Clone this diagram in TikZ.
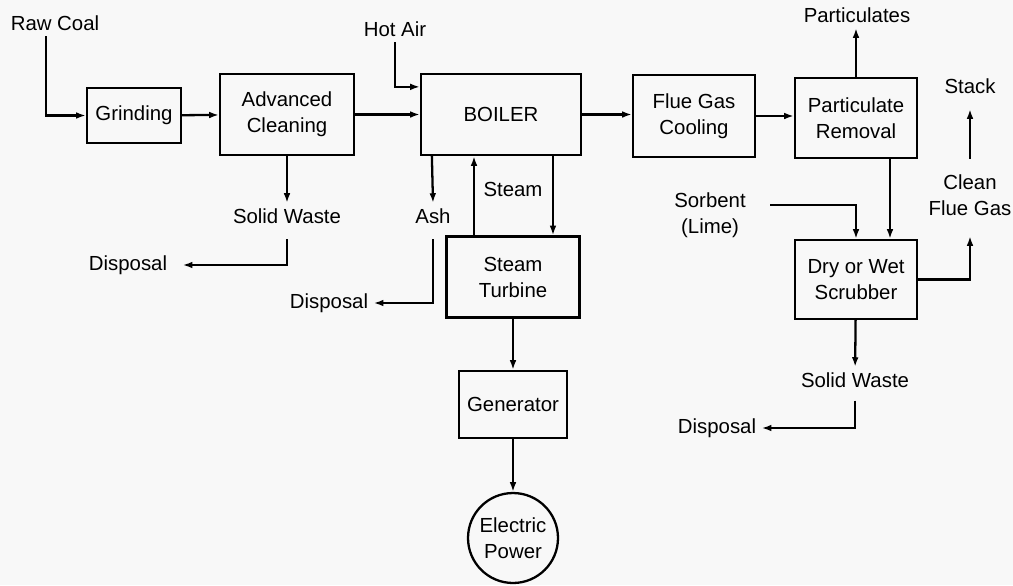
\documentclass[tikz,border=0pt]{standalone}
\usepackage{fontspec}
\setmainfont{Liberation Sans}
\definecolor{fondo}{RGB}{248,248,248}
\usetikzlibrary{positioning, calc, arrows.meta}

\begin{document}
\begin{tikzpicture}[
    x=0.02cm, y=-0.02cm,
    box/.style={
        rectangle, draw=black, line width=1.3pt, fill=fondo,
        align=center, inner sep=2pt,
        font=\fontsize{11.6}{14.8}\selectfont},
    lab/.style={align=center, inner sep=3pt,
        font=\fontsize{11.6}{14.8}\selectfont},
    arr/.style={-{Latex[length=5.5pt, width=3.8pt]}, line width=1.3pt},
    lin/.style={line width=1.3pt}]
  % Fondo y margenes
  \fill[fondo] (0,0) rectangle (1013,585);
  \useasboundingbox (0,0) rectangle (1013,585);
  % Nodos principales
  \node[box, minimum width=1.88cm, minimum height=1.1cm] (grind) at (134,115.5) {Grinding};
  \node[box, minimum width=2.68cm, minimum height=1.62cm] (clean) at (287,114.5) {Advanced\\Cleaning};
  \node[box, minimum width=3.2cm, minimum height=1.62cm] (boil) at (501,114.5) {BOILER};
  \node[box, minimum width=2.44cm, minimum height=1.64cm] (fgc) at (694,116) {Flue Gas\\Cooling};
  \node[box, minimum width=2.44cm, minimum height=1.6cm] (prem) at (856,118) {Particulate\\Removal};
  \node[box, minimum width=2.44cm, minimum height=1.58cm] (scrub) at (856,279.5) {Dry or Wet\\Scrubber};
  \node[box, minimum width=2.66cm, minimum height=1.62cm] (turb) at (513,277) {Steam\\Turbine};
  \node[box, minimum width=2.16cm, minimum height=1.34cm] (gen) at (513,404.5) {Generator};
  \node[box, circle, minimum size=1.8cm, inner sep=0pt] (pow) at (513,538) {Electric\\Power};
  % Etiquetas de entradas y salidas
  \node[lab] (raw) at (55,23) {Raw Coal};
  \node[lab] (hot) at (395,29) {Hot Air};
  \node[lab] (part) at (857,15) {Particulates};
  \node[lab] (stack) at (970,86) {Stack};
  \node[lab] (cfg) at (970,195) {Clean\\Flue Gas};
  \node[lab] (sorb) at (710,215) {Sorbent\\(Lime)};
  \node[lab] (sw1) at (287,216) {Solid Waste};
  \node[lab] (ash) at (433,216) {Ash};
  \node[lab] (steam) at (513,189) {Steam};
  \node[lab] (sw2) at (855,380) {Solid Waste};
  \node[lab] (disp1) at (128,265) {Disposal};
  \node[lab] (disp2) at (329,303) {Disposal};
  \node[lab] (disp3) at (717,428) {Disposal};
  % Puntos auxiliares
  \coordinate (stup) at ([xshift=-0.78cm]turb.north);
  \coordinate (stdn) at ([xshift=0.8cm]turb.north);
  \coordinate (scin) at ([xshift=0.68cm]scrub.north);
  \coordinate (prout) at ([xshift=0.68cm]prem.south);
  % Linea principal
  \draw[arr] ([xshift=-0.18cm]raw.south) |- (grind.west);
  \draw[arr] (grind) -- (clean);
  \draw[arr] (clean) -- (boil);
  \draw[arr] (hot.south) |- ([yshift=-0.28cm]boil.north west);
  \draw[arr] (boil.east) -- (boil.east -| fgc.west);
  \draw[arr] (fgc.east) -- (fgc.east -| prem.west);
  \draw[arr] (prem.north) -- (prem.north |- part.south);
  \draw[arr] (prout) -- (scin);
  \draw[arr] ([shift={(0.38cm,0.2cm)}]sorb.east) -| (scrub.north);
  \draw[arr, shorten >=0.3cm] (scrub.east) -| (cfg.south);
  \draw[arr, shorten <=0.2cm, shorten >=0.2cm] (cfg.north) -- (stack.south);
  % Residuos
  \draw[arr] (clean) -- (sw1);
  \draw[arr, shorten <=0.2cm, shorten >=0.2cm] (sw1.south) |- (disp1.east);
  \draw[arr] ([xshift=0.24cm]boil.south west) -- (ash.north);
  \draw[arr, shorten <=0.2cm] (ash.south) |- (disp2.east);
  \draw[arr] (scrub) -- (sw2);
  \draw[arr, shorten <=0.15cm] (sw2.south) |- (disp3.east);
  % Ciclo de vapor y generacion
  \draw[arr] (stup) -- (stup |- boil.south);
  \draw[arr] (stdn |- boil.south) -- (stdn);
  \draw[arr] (turb) -- (gen);
  \draw[arr] (gen) -- (pow);
\end{tikzpicture}
\end{document}
